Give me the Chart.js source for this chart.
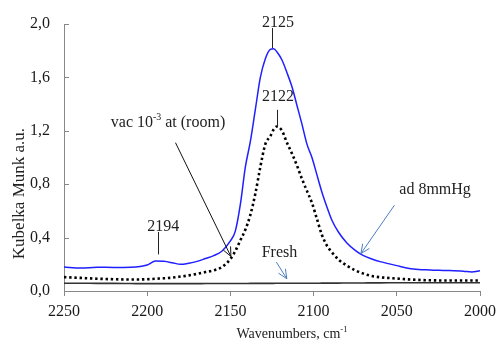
<!DOCTYPE html>
<html><head><meta charset="utf-8">
<script src="https://cdn.jsdelivr.net/npm/chart.js@4/dist/chart.umd.min.js"></script>
<style>html,body{margin:0;padding:0;background:#fff;}#wrap{width:502px;height:343px;}</style>
</head><body><div id="wrap"><canvas id="c" width="502" height="343"></canvas></div>
<script>
// ---- data ----
const wavenumbers = [2250,2240,2230,2220,2210,2200,2195,2190,2185,2180,2175,2170,2165,2160,2155,2150,2147,2144,2141,2138,2135,2132,2129,2126,2124,2122,2119,2116,2113,2110,2107,2104,2101,2098,2095,2092,2089,2085,2080,2075,2070,2065,2060,2050,2040,2030,2020,2010,2005,2000];
const ad8mmHg = [0.180,0.172,0.178,0.176,0.178,0.195,0.225,0.222,0.212,0.200,0.208,0.222,0.243,0.265,0.300,0.375,0.450,0.650,0.930,1.120,1.360,1.600,1.740,1.810,1.815,1.790,1.730,1.635,1.530,1.390,1.250,1.100,1.000,0.870,0.740,0.630,0.530,0.440,0.360,0.305,0.265,0.240,0.220,0.190,0.165,0.158,0.154,0.148,0.142,0.152];
const vacRoom = [0.104,0.098,0.092,0.088,0.086,0.088,0.092,0.095,0.100,0.108,0.117,0.128,0.142,0.155,0.180,0.240,0.300,0.380,0.460,0.570,0.730,0.930,1.100,1.160,1.210,1.232,1.200,1.110,1.030,0.940,0.840,0.750,0.660,0.540,0.420,0.340,0.290,0.235,0.190,0.155,0.130,0.112,0.103,0.093,0.085,0.080,0.079,0.079,0.079,0.079];
const fresh = [0.058,0.058,0.057,0.057,0.056,0.055,0.055,0.055,0.055,0.055,0.055,0.055,0.056,0.056,0.056,0.056,0.056,0.056,0.056,0.057,0.057,0.057,0.057,0.057,0.057,0.058,0.058,0.058,0.058,0.058,0.058,0.058,0.058,0.058,0.059,0.059,0.059,0.059,0.060,0.060,0.060,0.061,0.061,0.062,0.062,0.062,0.062,0.062,0.062,0.062];
const xTicks = [2250,2200,2150,2100,2050,2000];
const yTicks = [0,0.4,0.8,1.2,1.6,2.0];
const peakLabels = ['2125','2122','2194'];
const seriesLabels = ['ad 8mmHg','vac 10-3 at (room)','Fresh'];

const FONT = "'Liberation Serif','Times New Roman',serif";
const pts = arr => wavenumbers.map((x,i)=>({x:x,y:arr[i]}));

function drawSup(ctx, parts, cx, cy, size, align){
  let w = 0;
  const widths = parts.map(p=>{ctx.font=(p[1]?size*0.62:size)+'px '+FONT; const m=ctx.measureText(p[0]).width; w+=m; return m;});
  let x = align==='left'?cx:cx-w/2;
  ctx.textAlign='left'; ctx.textBaseline='alphabetic';
  parts.forEach((p,i)=>{
    ctx.font=(p[1]?size*0.62:size)+'px '+FONT;
    ctx.fillText(p[0], x, cy + size*0.33 - (p[1]?size*0.42:0));
    x += widths[i];
  });
}
function arrow(ctx, x1,y1,x2,y2,color){
  ctx.save(); ctx.strokeStyle=color; ctx.lineWidth=1;
  ctx.beginPath(); ctx.moveTo(x1,y1); ctx.lineTo(x2,y2); ctx.stroke();
  const a=Math.atan2(y2-y1,x2-x1), L=10, s=0.42;
  ctx.beginPath();
  ctx.moveTo(x2-L*Math.cos(a-s), y2-L*Math.sin(a-s));
  ctx.lineTo(x2,y2);
  ctx.lineTo(x2-L*Math.cos(a+s), y2-L*Math.sin(a+s));
  ctx.stroke(); ctx.restore();
}

const annot = {
  id:'annot',
  afterDraw(chart){
    const ctx=chart.ctx, xs=chart.scales.x, ys=chart.scales.y, ca=chart.chartArea;
    const X=v=>xs.getPixelForValue(v), Y=v=>ys.getPixelForValue(v);
    ctx.save();
    // inward y ticks
    ctx.strokeStyle='#888'; ctx.lineWidth=1;
    yTicks.forEach(v=>{const y=Math.round(Y(v))+0.5; ctx.beginPath(); ctx.moveTo(ca.left,y); ctx.lineTo(ca.left+5,y); ctx.stroke();});
    // peak markers
    ctx.fillStyle='#222'; ctx.strokeStyle='#222';
    const peaks=[[peakLabels[0],2121.4,2.01,2124.8,1.97,1.82],[peakLabels[1],2121.4,1.453,2122,1.357,1.232],[peakLabels[2],2190.3,0.48,2193.6,0.442,0.274]];
    peaks.forEach(p=>{
      ctx.font='16px '+FONT; ctx.textAlign='center'; ctx.textBaseline='middle';
      ctx.fillText(p[0], X(p[1]), Y(p[2]));
      const lx=Math.round(X(p[3]))+0.5;
      ctx.beginPath(); ctx.moveTo(lx,Y(p[4])); ctx.lineTo(lx,Y(p[5])); ctx.stroke();
    });
    // series labels
    ctx.fillStyle='#222';
    drawSup(ctx,[['vac 10',false],['-3',true],[' at (room)',false]], X(2187.5), Y(1.267), 16);
    drawSup(ctx,[[seriesLabels[2],false]], X(2120.5), Y(0.292), 16);
    drawSup(ctx,[[seriesLabels[0],false]], X(2027), Y(0.768), 16);
    arrow(ctx, X(2183),Y(1.111), X(2149.7),Y(0.259), '#111');
    arrow(ctx, X(2122.4),Y(0.217), X(2116.1),Y(0.092), '#4a7ebb');
    arrow(ctx, X(2051.4),Y(0.643), X(2071.6),Y(0.28), '#4a7ebb');
    // axis titles
    drawSup(ctx,[['Wavenumbers, cm',false],['-1',true]], X(2113), chart.height-10, 14);
    ctx.save(); ctx.translate(18, Y(0.73)); ctx.rotate(-Math.PI/2);
    drawSup(ctx,[['Kubelka Munk a.u.',false]], 0, 0, 17);
    ctx.restore();
    ctx.restore();
  }
};

new Chart(document.getElementById('c'),{
  type:'line',
  data:{datasets:[
    {label:seriesLabels[0], data:pts(ad8mmHg), borderColor:'#1f1fff', borderWidth:1.5, pointRadius:0, cubicInterpolationMode:'monotone', order:1},
    {label:seriesLabels[1], data:pts(vacRoom), borderColor:'#000', borderWidth:2.6, borderDash:[2.4,2.8], pointRadius:0, cubicInterpolationMode:'monotone', order:2},
    {label:seriesLabels[2], data:pts(fresh), borderColor:'#333', borderWidth:1.6, pointRadius:0, cubicInterpolationMode:'monotone', order:3}
  ]},
  options:{
    responsive:false, devicePixelRatio:1, animation:false,
    layout:{padding:{top:24,right:16,left:0,bottom:0}},
    plugins:{legend:{display:false}, tooltip:{enabled:false}},
    scales:{
      x:{type:'linear', reverse:true, min:2000, max:2250,
        afterBuildTicks:s=>{s.ticks=xTicks.map(v=>({value:v}));},
        afterFit:s=>{s.height=52;},
        ticks:{font:{family:FONT,size:16}, color:'#1a1a1a', padding:6, maxRotation:0, autoSkip:false, callback:v=>String(v)},
        grid:{display:true, drawOnChartArea:false, drawTicks:true, tickLength:5, color:'#888'},
        border:{display:true, color:'#888', width:1}},
      y:{min:0, max:2,
        afterBuildTicks:s=>{s.ticks=yTicks.map(v=>({value:v}));},
        afterFit:s=>{s.width=64;},
        ticks:{font:{family:FONT,size:16}, color:'#1a1a1a', padding:14, callback:v=>v.toFixed(1).replace('.',',')},
        grid:{display:false, drawTicks:false},
        border:{display:true, color:'#888', width:1}}
    }
  },
  plugins:[annot]
});
</script></body></html>
